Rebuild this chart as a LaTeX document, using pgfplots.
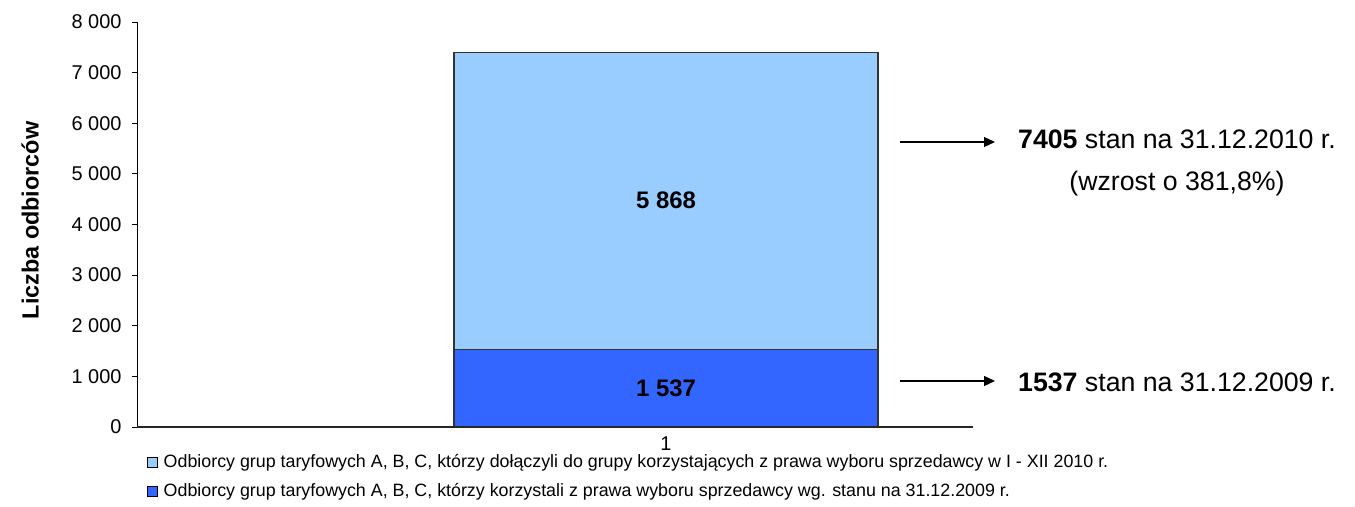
\documentclass[border=0pt]{standalone}
\usepackage{pgfplots}
\pgfplotsset{compat=1.18}
\usepackage{fontspec}
\setmainfont{Liberation Sans}
\usetikzlibrary{arrows.meta}
\definecolor{lightb}{HTML}{99CCFF}
\definecolor{darkb}{HTML}{3366FF}
\begin{document}
\begin{tikzpicture}[x=1bp,y=1bp]
\useasboundingbox (-137,-80) rectangle (1218,427);
\node[anchor=north,font=\fontsize{20}{24}\selectfont,inner sep=0pt] at (529,-10) {1};
\begin{axis}[
  at={(0,0)}, anchor=south west,
  scale only axis, width=1058bp, height=405bp,
  xmin=0.5, xmax=1.5, ymin=0, ymax=8000,
  axis x line=none, axis y line=left,
  y axis line style={-, line width=0.8bp},
  ytick={0,1000,...,8000},
  tick align=outside, major tick length=5bp,
  ytick style={line width=0.8bp,black},
  yticklabel style={font=\fontsize{20}{24}\selectfont, xshift=-7bp},
  /pgf/number format/assume math mode=true,
  /pgf/number format/1000 sep={\ },
  ylabel={Liczba odbiorców},
  every axis y label/.style={at={(axis description cs:-0.101,0.51)}, rotate=90, anchor=center, font=\fontsize{23.5}{26}\selectfont\bfseries},
  ybar stacked, bar width=424bp,
  reverse legend,
  legend cell align=left,
  legend style={at={(axis description cs:0.0075,-0.058)}, anchor=north west, draw=none, fill=white,
    font=\fontsize{17.9}{21}\selectfont, row sep=10.5bp, inner sep=2bp,
    /tikz/every even column/.append style={column sep=0bp}},
  legend image code/.code={\draw[#1, draw=black, line width=0.6bp] (0bp,-5bp) rectangle (10bp,5bp);},
  legend style={nodes={inner xsep=6bp}},
]
\addplot[fill=darkb, draw=black!80, line width=1.2bp] coordinates {(1,1537)};
\addlegendentry{Odbiorcy grup taryfowych A, B, C, którzy korzystali z prawa wyboru sprzedawcy wg. stanu na 31.12.2009 r.}
\addplot[fill=lightb, draw=black!80, line width=1.2bp] coordinates {(1,5868)};
\addlegendentry{Odbiorcy grup taryfowych A, B, C, którzy dołączyli do grupy korzystających z prawa wyboru sprzedawcy w I - XII 2010 r.}
\end{axis}
\node[font=\fontsize{24}{28}\selectfont\bfseries] at (529,39) {1 537};
\node[font=\fontsize{24}{28}\selectfont\bfseries] at (529,227) {5 868};
\draw[line width=1.2bp, black!85] (0,0) -- (836,0);
\draw[line width=1.2bp, -{Triangle[length=11bp,width=10bp]}] (763,285) -- (858,285);
\draw[line width=1.2bp, -{Triangle[length=11bp,width=10bp]}] (763,46) -- (858,46);
\node[align=center, font=\fontsize{26.8}{42}\selectfont] at (1040,264) {\textbf{7405} stan na 31.12.2010 r.\\(wzrost o 381,8\%)};
\node[font=\fontsize{26.8}{30}\selectfont] at (1040,45) {\textbf{1537} stan na 31.12.2009 r.};
\end{tikzpicture}
\end{document}
